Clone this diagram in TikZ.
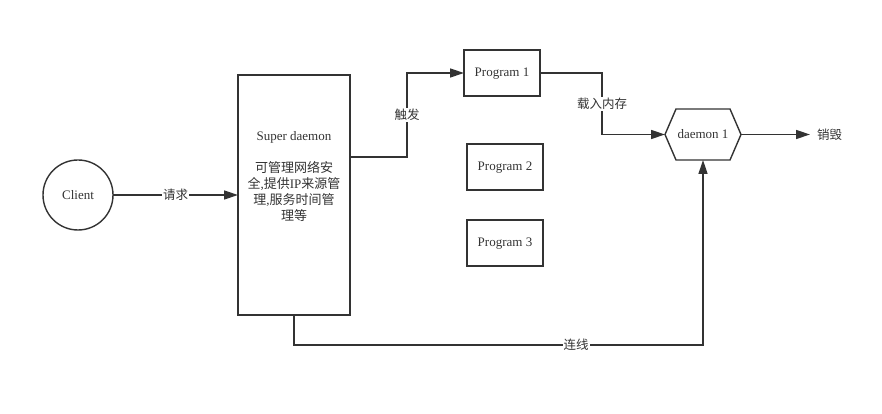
\documentclass[tikz,border=0pt]{standalone}
\usepackage{fontspec}
\setmainfont{Liberation Serif}
\newfontfamily\cjk{Noto Sans CJK SC}
\usetikzlibrary{positioning,arrows.meta}
\definecolor{linegray}{RGB}{51,51,51}

\begin{document}
\begin{tikzpicture}[x=1pt, y=1pt, node distance=30pt, line width=1.4pt, color=linegray, outer sep=0pt,
    font=\fontsize{13}{16}\selectfont, >={Triangle[length=14pt,width=9pt]},
    lbl/.style={fill=white, inner sep=1pt, font=\cjk\fontsize{12.5}{15}\selectfont}]
        \useasboundingbox (-78,195) rectangle (804,-219);
        \node[draw, circle, minimum size=70pt] (client) {Client};
        \node[draw, minimum width=112pt, minimum height=240pt, right=125pt of client] (super) {};
        \node[align=center, yshift=18pt] (supertxt) at (super) {Super daemon\\[16pt]
            {\cjk 可管理网络安}\\{\cjk 全},{\cjk 提供}IP{\cjk 来源管}\\{\cjk 理},{\cjk 服务时间管}\\{\cjk 理等}};
        \node[draw, minimum width=76pt, minimum height=46pt, text depth=1pt, right=114pt of super.north east, yshift=2pt] (prog1) {Program 1};
        \node[draw, minimum width=76pt, minimum height=46pt, text depth=1pt, below=48pt of prog1, xshift=3pt] (prog2) {Program 2};
        \node[draw, minimum width=76pt, minimum height=46pt, text depth=1pt, below=30pt of prog2] (prog3) {Program 3};
        \node[minimum width=76pt, minimum height=51pt, text depth=1pt, right=125pt of prog1, yshift=-61.5pt] (d1) {daemon 1};
        \draw (d1.west) -- ([xshift=11pt]d1.north west) -- ([xshift=-11pt]d1.north east)
            -- (d1.east) -- ([xshift=-11pt]d1.south east) -- ([xshift=11pt]d1.south west) -- cycle;
        \node[lbl, inner sep=7pt, right=69pt of d1] (destroy) {销毁};
        \draw[->] (client) -- node[lbl]{请求} (super);
        \draw[->] ([yshift=38pt]super.east) -- ++(57pt,0) |- node[lbl, pos=0.25]{触发} (prog1.west);
        \draw[->] (prog1.east) -- ++(62pt,0) |- node[lbl, pos=0.25]{载入内存} (d1.west);
        \draw[->] (d1.east) -- (destroy);
        \draw[->] (super.south) -- ++(0,-30pt) -| node[lbl, pos=0.345]{连线} (d1.south);
      \end{tikzpicture}
\end{document}
